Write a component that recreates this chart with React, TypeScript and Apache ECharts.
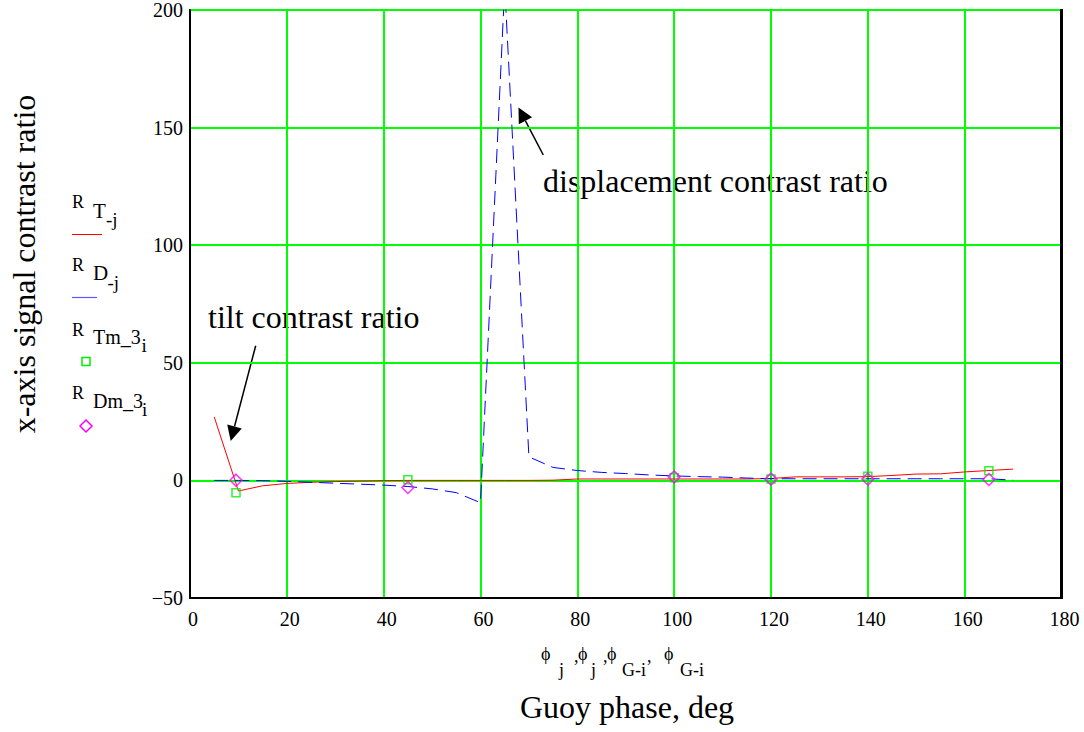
import React, { useEffect, useRef } from "react";
import * as echarts from "echarts";

// Gouy phase sample points (deg) for the continuous traces
const phiJ = [5, 10, 15, 20, 25, 30, 35, 40, 45, 50, 55, 60, 65, 70, 75, 80, 85, 90, 95, 100, 105, 110, 115, 120, 125, 130, 135, 140, 145, 150, 155, 160, 165, 170];
// tilt contrast ratio R_T_j
const rT = [27, -4.5, -2.3, -1.3, -0.8, -0.5, -0.3, -0.1, 0, 0, 0, 0, 0, 0, 0.1, 0.6, 0.6, 0.6, 0.6, 0.6, 0.6, 0.6, 0.6, 0.8, 1.5, 1.5, 1.5, 1.6, 2.1, 2.7, 2.8, 3.6, 4.2, 4.8];
// displacement contrast ratio R_D_j
const rD = [0, 0, -0.1, -0.4, -0.8, -1.2, -1.6, -2, -2.6, -3.6, -5.2, -9.5, 210, 10, 5.5, 4.2, 3.4, 2.9, 2.3, 1.9, 1.6, 1.4, 1.0, 0.7, 0.7, 0.7, 0.7, 0.7, 0.7, 0.7, 0.7, 0.7, 0.7, 0.1];
// measured points
const phiG = [9.5, 45, 100, 120, 140, 165];
const rTm3 = [-5.3, 0.3, 1.1, 0.55, 1.8, 4.1];
const rDm3 = [0.1, -3, 1.5, 0.55, 0.55, 0.4];

const xTicks = { min: 0, max: 180, interval: 20 };
const yTicks = { min: -50, max: 200, interval: 50 };

const FF = "Liberation Serif";

function txt(text: string, x: number, y: number, size: number, align = "left", extra: any = {}) {
  return {
    type: "text",
    x,
    y,
    ...extra,
    style: {
      text,
      fontSize: size,
      fontFamily: FF,
      fill: "#000",
      align,
      textAlign: align,
      verticalAlign: "middle",
      textVerticalAlign: "middle",
    },
  };
}

function arrow(x1: number, y1: number, x2: number, y2: number, len = 15, hw = 7.5) {
  const dx = x2 - x1, dy = y2 - y1;
  const L = Math.sqrt(dx * dx + dy * dy);
  const ux = dx / L, uy = dy / L;
  const bx = x2 - ux * len, by = y2 - uy * len;
  const px = -uy * hw, py = ux * hw;
  return [
    { type: "line", shape: { x1, y1, x2: bx, y2: by }, style: { stroke: "#000", lineWidth: 1.5 } },
    {
      type: "polygon",
      shape: { points: [[x2, y2], [bx + px, by + py], [bx - px, by - py]] },
      style: { fill: "#000" },
    },
  ];
}

export default function App() {
  const ref = useRef<HTMLDivElement>(null);
  useEffect(() => {
    if (!ref.current) return;
    const chart = echarts.init(ref.current, null, { renderer: "svg" });
    const lineT = phiJ.map((x, i) => [x, rT[i]]);
    const lineD = phiJ.map((x, i) => [x, rD[i]]);
    const ptsT = phiG.map((x, i) => [x, rTm3[i]]);
    const ptsD = phiG.map((x, i) => [x, rDm3[i]]);

    const legend: any[] = [
      // item 1
      txt("R", 72, 202, 18),
      txt("T", 93, 211, 21),
      txt("-j", 106, 219, 19),
      { type: "line", shape: { x1: 72, y1: 234.5, x2: 102, y2: 234.5 }, style: { stroke: "#ff0000", lineWidth: 1 } },
      // item 2
      txt("R", 72, 265, 18),
      txt("D", 93, 273, 21),
      txt("-j", 107.5, 282, 19),
      { type: "line", shape: { x1: 72, y1: 297.5, x2: 97, y2: 297.5 }, style: { stroke: "#5a5aff", lineWidth: 1.2 } },
      // item 3
      txt("R", 72, 330, 18),
      txt("Tm_3", 93, 337, 20),
      txt("i", 141.5, 345.5, 19),
      { type: "rect", shape: { x: 82, y: 357.5, width: 8, height: 8 }, style: { fill: "none", stroke: "#00ee00", lineWidth: 1.5 } },
      // item 4
      txt("R", 72, 393, 18),
      txt("Dm_3", 93, 400.5, 20),
      txt("i", 142, 409, 19),
      {
        type: "polygon",
        shape: { points: [[86, 420], [92, 426], [86, 432], [80, 426]] },
        style: { fill: "none", stroke: "#ff00ff", lineWidth: 1.5 },
      },
    ];

    const xVar: any[] = [
      txt("ϕ", 541, 654, 18),
      txt("j", 559, 670, 18),
      txt(",", 574, 656, 18),
      txt("ϕ", 578, 654, 18),
      txt("j", 591, 670, 18),
      txt(",", 603, 656, 18),
      txt("ϕ", 607, 654, 18),
      txt("G-i", 622, 670, 18),
      txt(",", 647, 656, 18),
      txt("ϕ", 664, 654, 18),
      txt("G-i", 680, 670, 18),
    ];

    const option: any = {
      animation: false,
      backgroundColor: "#fff",
      textStyle: { fontFamily: FF },
      grid: {
        left: 190,
        right: 22.5,
        top: 9.5,
        bottom: 134,
        show: true,
        borderColor: "#000",
        borderWidth: 2,
        backgroundColor: "transparent",
      },
      xAxis: {
        type: "value",
        ...xTicks,
        axisLine: { show: true, onZero: false, lineStyle: { color: "#000", width: 2 } },
        axisTick: { show: false },
        splitLine: { show: true, lineStyle: { color: "#00ff00", width: 2 } },
        axisLabel: {
          fontSize: 20,
          fontFamily: FF,
          color: "#000",
          margin: 11,
          padding: [0, 0, 0, 6],
        },
      },
      yAxis: {
        type: "value",
        ...yTicks,
        axisLine: { show: true, onZero: false, lineStyle: { color: "#000", width: 2 } },
        axisTick: { show: false },
        splitLine: { show: true, lineStyle: { color: "#00ff00", width: 2 } },
        axisLabel: {
          fontSize: 20,
          fontFamily: FF,
          color: "#000",
          margin: 7,
          padding: [10, 0, 0, 0],
          formatter: (v: number) => (v < 0 ? "−" + Math.abs(v) : String(v)),
        },
      },
      series: [
        {
          name: "R T_j",
          type: "line",
          data: lineT,
          showSymbol: false,
          symbol: "none",
          lineStyle: { color: "#ff0000", width: 1 },
          itemStyle: { color: "#ff0000" },
          z: 3,
        },
        {
          name: "R D_j",
          type: "line",
          data: lineD,
          showSymbol: false,
          symbol: "none",
          lineStyle: { color: "#0000ff", width: 1, type: [14, 7] },
          itemStyle: { color: "#0000ff" },
          z: 4,
        },
        {
          name: "R Tm_3",
          type: "scatter",
          data: ptsT,
          symbol: "rect",
          symbolSize: 8,
          itemStyle: { color: "none", borderColor: "#00ee00", borderWidth: 1.5 },
          z: 5,
        },
        {
          name: "R Dm_3",
          type: "scatter",
          data: ptsD,
          symbol: "diamond",
          symbolSize: 12,
          itemStyle: { color: "none", borderColor: "#ff00ff", borderWidth: 1.5 },
          z: 6,
        },
      ],
      graphic: [
        { type: "line", shape: { x1: 1061.5, y1: 9, x2: 1061.5, y2: 599 }, style: { stroke: "#000", lineWidth: 3 }, z: 10 },
        txt("x-axis signal contrast ratio", 24, 264, 32, "center", { rotation: Math.PI / 2 }),
        txt("Guoy phase, deg", 627, 707, 32, "center"),
        txt("tilt contrast ratio", 208, 317, 32),
        txt("displacement contrast ratio", 543, 180.5, 32),
        ...arrow(255.7, 345.7, 230.7, 441),
        ...arrow(543.3, 155, 518.5, 107.5),
        ...legend,
        ...xVar,
      ],
    };
    chart.setOption(option);
    return () => chart.dispose();
  }, []);
  return (
    <div
      ref={ref}
      style={{ position: "fixed", left: 0, top: 0, width: 1084, height: 732, background: "#fff" }}
    />
  );
}
